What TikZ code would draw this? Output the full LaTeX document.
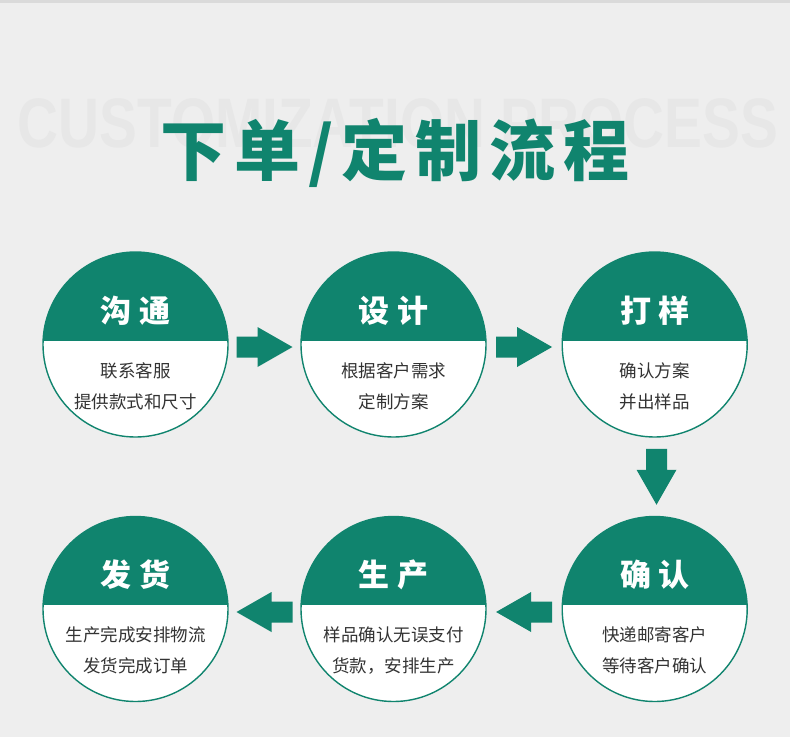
\documentclass[tikz,border=0pt]{standalone}
\usepackage{fontspec}
\setmainfont{Noto Sans CJK SC}
\newfontfamily\cjk{Noto Sans CJK SC}
\newfontfamily\cjktitle[LetterSpace=12]{Noto Sans CJK SC}
\newfontfamily\wmfont{Liberation Sans}
\usetikzlibrary{calc}
\definecolor{pgreen}{HTML}{10846E}
\definecolor{pbg}{HTML}{EEEEEE}
\definecolor{ptext}{HTML}{333333}
\definecolor{pwm}{HTML}{E7E7E7}
\definecolor{pline}{HTML}{DADADA}
\tikzset{
  stepcircle/.style={circle, minimum size=185pt, inner sep=0pt, draw=pgreen, line width=1.4pt, fill=white,
    path picture={\fill[pgreen] ([xshift=-2pt,yshift=2pt]path picture bounding box.north west) rectangle ([xshift=2pt,yshift=4pt]path picture bounding box.east);}},
  headtext/.style={text=white, font=\cjk\bfseries\fontsize{31}{31}\selectfont},
  bodytext/.style={text=ptext, font=\cjk\fontsize{17.5}{17.5}\selectfont},
  blockarrow/.pic={\fill[pgreen] (-28,-10.5) -- (-7,-10.5) -- (-7,-20) -- (28,0) -- (-7,20) -- (-7,10.5) -- (-28,10.5) -- cycle;},
}
\begin{document}
\begin{tikzpicture}[x=1pt,y=1pt]
\fill[pbg] (0,0) rectangle (790,-737);
\useasboundingbox (0,0) rectangle (790,-737);
\fill[pline] (0,0) rectangle (790,-2.5);
% watermark
\node[text=pwm, font=\wmfont\bfseries\fontsize{70}{70}\selectfont, xscale=0.81, inner sep=0pt] (wm) at (398,-123) {CUSTOMIZATION PROCESS};
% title
\node[text=pgreen, font=\cjktitle\bfseries\fontsize{66}{66}\selectfont, inner sep=0pt] (title) at (395,-153) {下单/定制流程};
% circles
\node[stepcircle] (c1) at (135.5,-344.5) {};
\node[stepcircle] (c2) at (393.5,-344.5) {};
\node[stepcircle] (c3) at (654.7,-344.5) {};
\node[stepcircle] (c4) at (135.5,-609) {};
\node[stepcircle] (c5) at (393.5,-609) {};
\node[stepcircle] (c6) at (654.7,-609) {};
% texts
\foreach \c/\h/\a/\b in {c1/沟 通/联系客服/提供款式和尺寸, c2/设 计/根据客户需求/定制方案, c3/打 样/确认方案/并出样品,
  c4/发 货/生产完成安排物流/发货完成订单, c5/生 产/样品确认无误支付/货款，安排生产, c6/确 认/快递邮寄客户/等待客户确认}{
  \node[headtext] (\c h) at ($(\c)+(0,34)$) {\h};
  \node[bodytext] (\c a) at ($(\c)+(0,-26)$) {\a};
  \node[bodytext] (\c b) at ($(\c)+(0,-57)$) {\b};
}
% arrows between steps
\coordinate (m12) at ($(c1.east)!0.5!(c2.west)$);
\coordinate (m23) at ($(c2.east)!0.5!(c3.west)$);
\coordinate (m36) at ($(c3.south)!0.5!(c6.north)$);
\coordinate (m65) at ($(c6.west)!0.5!(c5.east)$);
\coordinate (m54) at ($(c5.west)!0.5!(c4.east)$);
\pic (a12) at ($(m12)+(0,-2.5)$) {blockarrow};
\pic (a23) at ($(m23)+(0,-2.5)$) {blockarrow};
\pic[rotate=-90] (a36) at ($(m36)+(1.8,0)$) {blockarrow};
\pic[rotate=180] (a65) at ($(m65)+(0,-3)$) {blockarrow};
\pic[rotate=180] (a54) at ($(m54)+(0,-3)$) {blockarrow};
\end{tikzpicture}
\end{document}
